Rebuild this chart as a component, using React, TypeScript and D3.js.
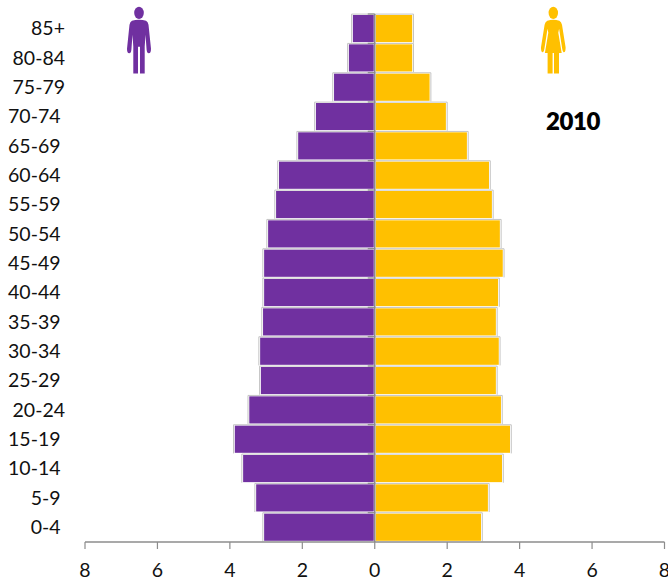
import React from "react";
import * as d3 from "d3";

const ageGroups = ["85+", "80-84", "75-79", "70-74", "65-69", "60-64", "55-59", "50-54", "45-49", "40-44", "35-39", "30-34", "25-29", "20-24", "15-19", "10-14", "5-9", "0-4"];
const maleShare = [0.64, 0.75, 1.16, 1.66, 2.15, 2.68, 2.76, 2.98, 3.09, 3.09, 3.12, 3.2, 3.18, 3.5, 3.9, 3.67, 3.31, 3.09];
const femaleShare = [1.07, 1.07, 1.55, 2.0, 2.58, 3.19, 3.27, 3.49, 3.57, 3.44, 3.38, 3.46, 3.38, 3.52, 3.77, 3.55, 3.16, 2.97];
const axisTicks = [-8, -6, -4, -2, 0, 2, 4, 6, 8];
const outdentedLabels = ["85+", "80-84", "75-79", "20-24"];
const yearLabel = "2010";

const PURPLE = "#7030a0";
const GOLD = "#ffc000";
const AXIS = "#8c8c8c";
const EDGE = "#c4c4c4";
const FONT = "Lato, Carlito, 'Open Sans', sans-serif";

const x = d3.scaleLinear().domain([-8, 8]).range([85, 664.5]);
const y = d3.scaleBand<string>().domain(ageGroups).range([14, 542]).padding(0);

// One half of a pyramid row: white halo, thin grey top and outer edge, then the fill
function Bar({ zero, end, top, h, fill }: { zero: number; end: number; top: number; h: number; fill: string }) {
  const dir = end < zero ? -1 : 1;
  const inner = zero + dir * 1;
  const outer = end - dir * 1.3;
  return (
    <g>
      <rect x={Math.min(zero, end)} y={top} width={Math.abs(end - zero)} height={h} fill="#fff" />
      <path d={`M${zero} ${top + 0.1}H${end}V${top + h - 0.6}`} fill="none" stroke={EDGE} strokeWidth={1} />
      <rect x={Math.min(inner, outer)} y={top + 1} width={Math.abs(outer - inner)} height={h - 2.2} fill={fill} />
    </g>
  );
}

// Pictogram of a man; origin at the top centre of the head
function ManIcon({ cx, top, fill }: { cx: number; top: number; fill: string }) {
  return (
    <g transform={`translate(${cx},${top})`} fill={fill}>
      <ellipse cx={0} cy={6.2} rx={4.8} ry={6.2} />
      <path d="M-7 14 Q-9 15 -9.5 18 L-12 42 Q-12 46.5 -9.8 46.5 Q-8 46.5 -7.6 43 L-6.5 28 L-5.7 40 L-5.7 66.8 L-1 66.8 L-1 40 L1 40 L1 66.8 L5.7 66.8 L5.7 40 L6.5 28 L7.6 43 Q8 46.5 9.8 46.5 Q12 46.5 12 42 L9.5 18 Q9 15 7 14 Q4 13 0 13 Q-4 13 -7 14 Z" />
    </g>
  );
}

// Pictogram of a woman in a dress; origin at the top centre of the head
function WomanIcon({ cx, top, fill }: { cx: number; top: number; fill: string }) {
  return (
    <g transform={`translate(${cx},${top})`} fill={fill}>
      <ellipse cx={0} cy={6.2} rx={4.7} ry={6.2} />
      <path d="M-6 14 Q-8 15 -8.7 18 L-12.3 40.5 Q-12.5 45.8 -10.3 45.5 Q-9.4 45 -8.9 42 L-5.8 22 L-5 26 L-8.4 46.3 L-5.7 46.3 L-5.7 66.8 L-0.7 66.8 L-0.7 46.3 L0.7 46.3 L0.7 66.8 L5.7 66.8 L5.7 46.3 L8.4 46.3 L5 26 L5.8 22 L8.9 42 Q9.4 45 10.3 45.5 Q12.5 45.8 12.3 40.5 L8.7 18 Q8 15 6 14 Q3 13 0 13 Q-3 13 -6 14 Z" />
    </g>
  );
}

export default function App() {
  const h = y.bandwidth();
  const zero = x(0);
  const axisY = y.range()[1];
  return (
    <svg
      width={668}
      height={581}
      viewBox="0 0 668 581"
      style={{ position: "absolute", left: 0, top: 0, background: "#fff" }}
    >
      {ageGroups.map((age, i) => (
        <g key={age}>
          <Bar zero={zero} end={x(-maleShare[i])} top={y(age)!} h={h} fill={PURPLE} />
          <Bar zero={zero} end={x(femaleShare[i])} top={y(age)!} h={h} fill={GOLD} />
          <line x1={zero - 7} x2={zero} y1={y(age)!} y2={y(age)!} stroke={AXIS} strokeWidth={1.2} />
          <text
            x={outdentedLabels.includes(age) ? 65 : 60.5}
            y={y(age)! + h / 2 + 6.5}
            textAnchor="end"
            fontFamily={FONT}
            fontSize={19.5}
            fill="#111"
          >
            {age}
          </text>
        </g>
      ))}
      <line x1={zero} x2={zero} y1={y.range()[0]} y2={axisY} stroke={AXIS} strokeWidth={1.5} />
      <line x1={x(-8)} x2={x(8)} y1={axisY} y2={axisY} stroke={AXIS} strokeWidth={1.5} />
      {axisTicks.map((t) => (
        <g key={t}>
          <line x1={x(t)} x2={x(t)} y1={axisY} y2={axisY + 7} stroke={AXIS} strokeWidth={1.2} />
          <text x={x(t)} y={577} textAnchor="middle" fontFamily={FONT} fontSize={19.5} fill="#111">
            {Math.abs(t)}
          </text>
        </g>
      ))}
      <ManIcon cx={139} top={6.7} fill={PURPLE} />
      <WomanIcon cx={553.3} top={6.7} fill={GOLD} />
      <text x={546} y={129.5} fontFamily={FONT} fontSize={24} fontWeight={800} letterSpacing={-0.4} fill="#000">
        {yearLabel}
      </text>
    </svg>
  );
}
